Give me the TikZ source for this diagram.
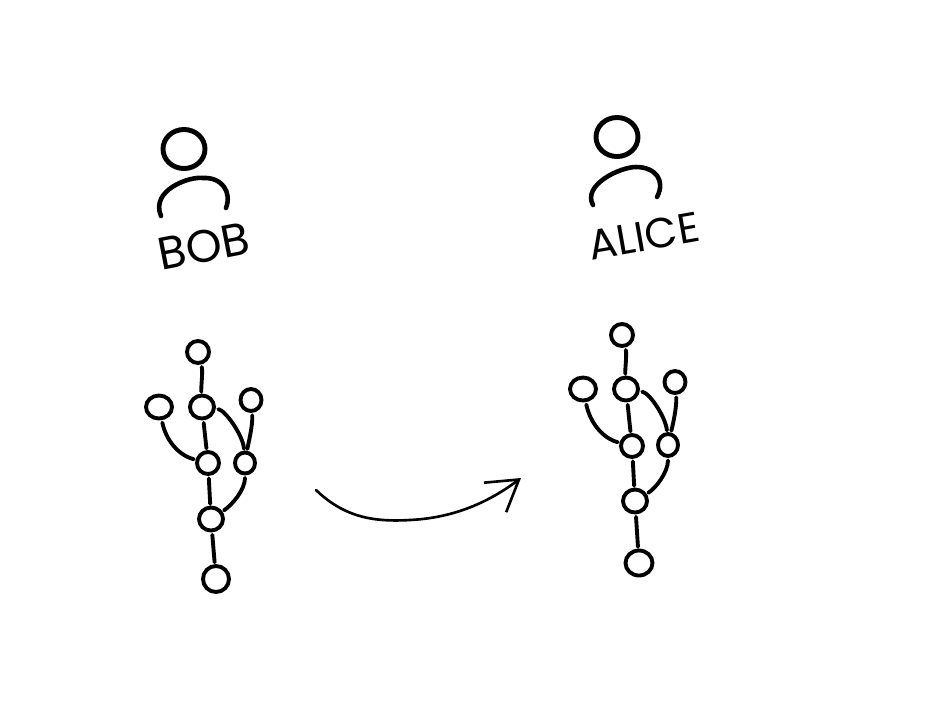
\documentclass[tikz,border=0pt]{standalone}
\usepackage{fontspec}
\setmainfont{Poppins}
\usetikzlibrary{arrows.meta}
\usetikzlibrary{shapes.geometric}

\tikzset{
    vertex/.style={ellipse, draw=black, line width=1.1pt, inner sep=0pt},
    personhead/.style={ellipse, draw=black, line width=1.4pt, inner sep=0pt,
        minimum width=42\unitlength, minimum height=39\unitlength},
    link/.style={line width=1.1pt, line cap=round, shorten >=0.5pt, shorten <=0.7pt},
    shoulders/.style={line width=1.3pt, line cap=round},
    caption/.style={inner sep=0pt, font=\fontsize{13}{13}\selectfont}
}
\setlength{\unitlength}{0.2845pt}

\begin{document}
\begin{tikzpicture}[x=0.01cm, y=-0.01cm]
    \useasboundingbox (0,0) rectangle (936,702);

    % bob
    \node[personhead] (bobHead) at (184,149) {};
    \coordinate (bobBodyA) at (161,216);
    \coordinate (bobBodyB) at (226,208);
    \draw[shoulders] (bobBodyA) .. controls (150,190) and (190,176) .. (203,178)
        .. controls (222,177) and (232,192) .. (bobBodyB);
    \node[caption, rotate=11] (bobName) at (204,246) {BOB};

    % alice
    \node[personhead] (aliceHead) at (617,137) {};
    \coordinate (aliceBodyA) at (593,205);
    \coordinate (aliceBodyB) at (657,197);
    \draw[shoulders] (aliceBodyA) .. controls (582,185) and (620,167) .. (636,167)
        .. controls (655,167) and (666,180) .. (aliceBodyB);
    \node[caption, rotate=10, font=\fontsize{12}{12}\selectfont] (aliceName) at (644,236) {ALICE};

    % graph of bob
    \node[vertex, minimum width=22\unitlength, minimum height=22\unitlength] (bobA) at (198,352) {};
    \node[vertex, minimum width=24\unitlength, minimum height=23\unitlength] (bobB) at (202,407) {};
    \node[vertex, minimum width=26\unitlength, minimum height=23\unitlength] (bobC) at (159,407) {};
    \node[vertex, minimum width=21\unitlength, minimum height=22\unitlength] (bobD) at (251,400) {};
    \node[vertex, minimum width=22\unitlength, minimum height=22\unitlength] (bobE) at (208,463) {};
    \node[vertex, minimum width=20\unitlength, minimum height=21\unitlength] (bobF) at (245,463) {};
    \node[vertex, minimum width=24\unitlength, minimum height=23\unitlength] (bobG) at (211,519) {};
    \node[vertex, minimum width=26\unitlength, minimum height=26\unitlength] (bobH) at (216,579) {};

    \draw[link] (bobA) .. controls (203,372) and (201,385) .. (bobB);
    \draw[link] (bobB) -- (bobE);
    \draw[link] (bobC) .. controls (166,440) and (178,455) .. (bobE);
    \draw[link] (bobB) .. controls (225,410) and (243,435) .. (bobF);
    \draw[link] (bobD) .. controls (253,425) and (248,445) .. (bobF);
    \draw[link] (bobE) -- (bobG);
    \draw[link] (bobF) .. controls (245,490) and (232,505) .. (bobG);
    \draw[link] (bobG) -- (bobH);

    % graph of alice
    \node[vertex, minimum width=22\unitlength, minimum height=22\unitlength] (aliceA) at (622,335) {};
    \node[vertex, minimum width=24\unitlength, minimum height=23\unitlength] (aliceB) at (626,389) {};
    \node[vertex, minimum width=26\unitlength, minimum height=23\unitlength] (aliceC) at (583,389) {};
    \node[vertex, minimum width=21\unitlength, minimum height=22\unitlength] (aliceD) at (675,382) {};
    \node[vertex, minimum width=22\unitlength, minimum height=22\unitlength] (aliceE) at (632,446) {};
    \node[vertex, minimum width=20\unitlength, minimum height=22\unitlength] (aliceF) at (668,445) {};
    \node[vertex, minimum width=24\unitlength, minimum height=23\unitlength] (aliceG) at (635,501) {};
    \node[vertex, minimum width=27\unitlength, minimum height=25\unitlength] (aliceH) at (639,563) {};

    \draw[link] (aliceA) .. controls (627,355) and (625,368) .. (aliceB);
    \draw[link] (aliceB) -- (aliceE);
    \draw[link] (aliceC) .. controls (590,422) and (602,438) .. (aliceE);
    \draw[link] (aliceB) .. controls (650,393) and (666,418) .. (aliceF);
    \draw[link] (aliceD) .. controls (677,408) and (672,428) .. (aliceF);
    \draw[link] (aliceE) -- (aliceG);
    \draw[link] (aliceF) .. controls (668,472) and (656,488) .. (aliceG);
    \draw[link] (aliceG) -- (aliceH);

    % arrow between them
    \coordinate (arrowFrom) at (316,490);
    \coordinate (arrowTo) at (521,478);
    \draw[line width=0.75pt, line cap=round, -{Straight Barb[length=8.5pt, width=10.5pt]}]
        (arrowFrom) .. controls (345,518) and (375,522) .. (410,520)
        .. controls (450,518) and (485,505) .. (arrowTo);
\end{tikzpicture}
\end{document}
